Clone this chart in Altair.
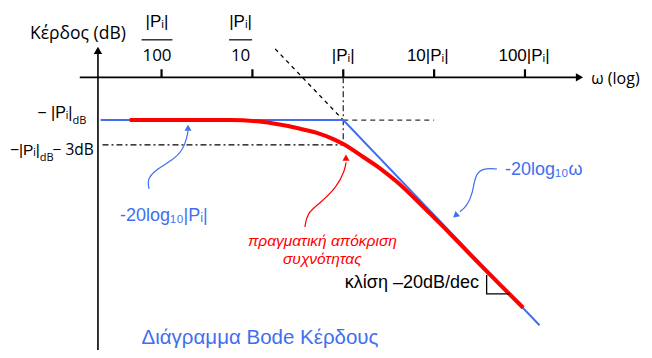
import altair as alt
import pandas as pd

# ---------------- data (x = decades relative to |Pi|, y = gain in schematic dB) -------------
X_DOMAIN = [-3.69, 3.31]
Y_DOMAIN = [-48.4, 23.6]

BLUE = "#3f6fef"
RED = "#ff0000"

# axes
AXIS_LEVEL = 9.0
AXIS_X = [-2.90, 2.58]
VAXIS_POS = -2.70
VAXIS_Y = [14.0, -48.4]
TICK_DECADES = [-2, -1, 0, 1, 2]
TICK_TOP = 10.7

# fraction tick labels above the axis
FRAC_X = [-2.05, -1.13]
FRAC_HALF = [0.17, 0.127]
FRAC_NUM = ["|Pᵢ|", "|Pᵢ|"]
FRAC_DEN = ["100", "10"]
TOP_X = [0.0, 0.93, 1.99]
TOP_LABELS = ["|Pᵢ|", "10|Pᵢ|", "100|Pᵢ|"]

# asymptotic (blue) magnitude
ASYM_X = [-2.67, 0.0, 2.16]
ASYM_Y = [0.0, 0.0, -43.2]

# actual response (red)
RED_X = [-2.35, -1.25, -0.92, -0.70, -0.51, -0.29, -0.11, 0.0, 0.22, 0.40, 0.59, 0.77, 0.95,
         1.14, 1.26, 1.98]
RED_Y = [0.0, 0.0, -0.3, -0.93, -1.66, -2.7, -4.0, -5.05, -7.77, -10.1, -13.0, -16.2, -19.6,
         -23.2, -25.6, -39.5]

MINUS3_LEVEL = -5.2
SLOPE_EXT_X = [-0.75, 0.0]
SLOPE_EXT_Y = [15.0, 0.0]
FLAT_EXT_X = [0.0, 1.0]

# slope triangle
TRI_X = [1.578, 1.578, 1.831]
TRI_Y = [-32.6, -36.6, -36.6]

# annotation arrows
ARROW1_X = [-2.137, -2.160, -2.072, -1.874, -1.764, -1.720, -1.709]
ARROW1_Y = [-14.5, -12.6, -10.5, -8.4, -6.3, -3.6, -2.3]
ARROW2_X = [-0.422, -0.400, -0.257, -0.069, 0.019, 0.030]
ARROW2_Y = [-22.5, -19.6, -17.5, -14.1, -10.5, -8.9]
ARROW3_X = [1.692, 1.537, 1.449, 1.427, 1.361, 1.284]
ARROW3_Y = [-10.3, -10.1, -11.6, -15.3, -18.1, -19.3]

XS = alt.Scale(domain=X_DOMAIN, nice=False, zero=False)
YS = alt.Scale(domain=Y_DOMAIN, nice=False, zero=False)


def enc(**extra):
    return dict(x=alt.X("x:Q", scale=XS, axis=None),
                y=alt.Y("y:Q", scale=YS, axis=None), **extra)


def line(xs, ys, **kw):
    df = pd.DataFrame({"x": xs, "y": ys, "o": range(len(xs))})
    return alt.Chart(df).mark_line(**kw).encode(**enc(order="o:Q"))


def text(x, y, s, **kw):
    df = pd.DataFrame({"x": [x], "y": [y], "t": [s]})
    return alt.Chart(df).mark_text(**kw).encode(**enc(text="t:N"))


def head(x, y, shape, color, size=55, angle=0):
    df = pd.DataFrame({"x": [x], "y": [y]})
    return alt.Chart(df).mark_point(shape=shape, filled=True, size=size, angle=angle,
                                    color=color, opacity=1, strokeWidth=0).encode(**enc())


layers = []
AX_FONT = "Open Sans"
P_FONT = "Liberation Sans"
# axes
layers.append(line(AXIS_X, [AXIS_LEVEL, AXIS_LEVEL], color="black", strokeWidth=1.6))
layers.append(head(AXIS_X[1] + 0.02, AXIS_LEVEL, "triangle-right", "black", 70))
layers.append(line([VAXIS_POS, VAXIS_POS], VAXIS_Y, color="black", strokeWidth=1.6))
layers.append(head(VAXIS_POS, VAXIS_Y[0] + 0.7, "triangle-up", "black", 70))
for d in TICK_DECADES:
    layers.append(line([d, d], [AXIS_LEVEL, TICK_TOP], color="black", strokeWidth=2.2))

# tick labels
for fx, fh, num, den in zip(FRAC_X, FRAC_HALF, FRAC_NUM, FRAC_DEN):
    layers.append(text(fx, 20.6, num, font=P_FONT, fontSize=17, align="center", baseline="middle"))
    layers.append(line([fx - fh, fx + fh], [16.9, 16.9], color="black", strokeWidth=1.2))
    layers.append(text(fx, 13.4, den, font=AX_FONT, fontSize=17, align="center", baseline="middle"))
for tx, tl in zip(TOP_X, TOP_LABELS):
    layers.append(text(tx, 13.4, tl, font=P_FONT, fontSize=17, align="center", baseline="middle"))

layers.append(text(-2.92, 18.1, "Κέρδος (dB)", font=AX_FONT, fontSize=17.5, align="center", baseline="middle"))
layers.append(text(2.73, 8.6, "ω (log)", font=AX_FONT, fontSize=16, align="left", baseline="middle"))

# y labels
layers.append(text(-2.98, 1.5, "− |Pᵢ|", font=P_FONT, fontSize=16, align="right", baseline="middle"))
layers.append(text(-2.98, -0.2, "dB", font=AX_FONT, fontSize=11, align="left", baseline="middle"))
layers.append(text(-3.34, -6.3, "−|Pᵢ|", font=P_FONT, fontSize=15.5, align="right", baseline="middle"))
layers.append(text(-3.34, -7.9, "dB", font=AX_FONT, fontSize=11, align="left", baseline="middle"))
layers.append(text(-3.20, -6.3, "− 3dB", font=AX_FONT, fontSize=15.5, align="left", baseline="middle"))

# helper lines
layers.append(line(SLOPE_EXT_X, SLOPE_EXT_Y, color="black", strokeWidth=1.3, strokeDash=[4, 4]))
layers.append(line(FLAT_EXT_X, [0, 0], color="#333333", strokeWidth=1.3, strokeDash=[5, 4]))
layers.append(line([0, 0], [AXIS_LEVEL, MINUS3_LEVEL], color="#333333", strokeWidth=1.3,
                   strokeDash=[6, 3, 2, 3]))
layers.append(line([-2.65, 0], [MINUS3_LEVEL, MINUS3_LEVEL], color="black", strokeWidth=1.3,
                   strokeDash=[6, 3, 2, 3]))

# curves
layers.append(line(ASYM_X, ASYM_Y, color=BLUE, strokeWidth=2))
layers.append(line(RED_X, RED_Y, color=RED, strokeWidth=4, interpolate="monotone"))

# slope triangle
layers.append(line(TRI_X, TRI_Y, color="black", strokeWidth=1.3))
layers.append(text(1.494, -34.3, "κλίση –20dB/dec", font="Liberation Sans", fontSize=18,
                   align="right", baseline="middle"))

# annotations
layers.append(line(ARROW1_X, ARROW1_Y, color=BLUE, strokeWidth=1.2, interpolate="basis"))
layers.append(head(-1.709, -1.6, "triangle-up", BLUE, 50))
layers.append(text(-2.457, -20.2, "-20log₁₀|Pᵢ|", font="Liberation Sans", fontSize=18,
                   color=BLUE, align="left", baseline="middle"))

layers.append(line(ARROW2_X, ARROW2_Y, color=RED, strokeWidth=1.2, interpolate="basis"))
layers.append(head(0.030, -7.9, "triangle-up", RED, 50))
layers.append(text(-0.23, -25.5, "πραγματική απόκριση", font="Liberation Sans", fontSize=15.5,
                   fontStyle="italic", color=RED, align="center", baseline="middle"))
layers.append(text(-0.23, -29.3, "συχνότητας", font="Liberation Sans", fontSize=15.5,
                   fontStyle="italic", color=RED, align="center", baseline="middle"))

layers.append(line(ARROW3_X, ARROW3_Y, color=BLUE, strokeWidth=1.2, interpolate="basis"))
layers.append(head(1.235, -20.1, "triangle-up", BLUE, 50, 229))
layers.append(text(1.78, -10.5, "-20log₁₀ω", font="Liberation Sans", fontSize=18,
                   color=BLUE, align="left", baseline="middle"))

layers.append(text(-0.917, -45.9, "Διάγραμμα Bode Κέρδους", font="Liberation Sans", fontSize=20.5,
                   color=BLUE, align="center", baseline="middle"))

chart = alt.layer(*layers).properties(
    width=636, height=342, padding=0, autosize="none", background="white"
).configure_view(stroke=None)

chart.save("out.html", embed_options={"renderer": "svg", "actions": False})
